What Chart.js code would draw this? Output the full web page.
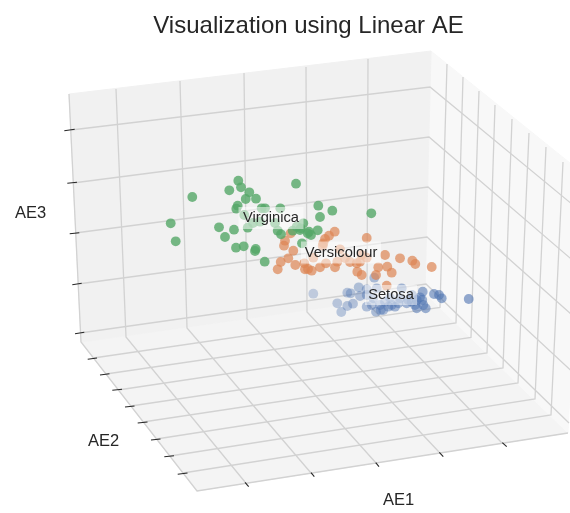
<!DOCTYPE html>
<html>
<head>
<meta charset="utf-8">
<title>Visualization using Linear AE</title>
<script src="https://cdn.jsdelivr.net/npm/chart.js@4"></script>
<style>
  html, body { margin: 0; padding: 0; background: #fff; }
  canvas { display: block; }
</style>
</head>
<body>
<canvas id="grafico" width="570" height="513"></canvas>
<script>
// projected positions
const virginicaX = [238.3,241,229.3,249.3,296,192.3,245.7,256,237.7,236.3,261.7,265,280.3,170.7,219,234,225,175.7,236,243.7,255.7,255,264.7,302,281,277.7,247.7,253,244.3,260,275,292.7,300.7,303.3,307.7,296.7,318.3,332.3,320,371.3,300,309,311,317.7];
const virginicaY = [180.7,187.3,190.3,192.3,183.7,197,199,198.7,205.7,208.7,208.3,208.3,208.3,223.3,227.3,229.7,237,241.3,247.7,246.3,249,251,261.7,243.3,234.3,230.7,227.7,223,215,221.7,223,230.7,228.3,223.3,233.3,226.7,205.7,210.7,217,213.3,230,231.7,235,230.3];

const versicolourX = [334.7,329,325,323.3,322.7,366.7,290.7,285,284,293.3,288.3,280.7,277.7,295.3,304.3,305,311.7,320,326,335,337.3,340,313.3,356.7,360,366.7,361.7,385,400,412.3,415.3,431.7,387.3,391.7,378.3,376,357.3,361.7,386.7,308,345,350];
const versicolourY = [231.7,235.7,239,243.3,245.7,238,233.3,240.7,245.7,250.7,258.3,262,269.3,265,263.3,269.3,270.7,267.3,263.3,267.3,261.7,249.3,257.7,263.3,261.7,257.7,255,255,258.3,260.7,264,267,266.7,272.7,267.3,275,271.7,275,285.7,269,258,262];

const setosaX = [313.3,374.3,358.7,347.3,350.7,337.3,347.3,353,341.3,366.7,376.7,401.7,366.7,366.7,371.7,376,380.7,388.3,391.7,398.3,406.7,415,416.7,425.7,422.7,420,422.3,416.7,434,439,441.7,468.7,380,385,400,408.3,395,411.7,423.3,373.3,383.3,360,390,412];
const setosaY = [293.7,277.7,287.3,292.7,293.3,303.3,306,303.7,312,289.3,288.3,288.3,295,306.7,305,311.7,310,306.7,305,303.3,303.3,305,308.3,308.3,291.7,297.3,300,300,294,295,298.3,299,305,301.7,298.3,300,306.7,301.7,305,298.3,310,296,298,295];

// box outline
const backWallX = [69,431,425,81];
const backWallY = [94,51,293,342];
const sideWallX = [431,580,568,425];
const sideWallY = [51,171,433,293];
const floorX = [81,425,568,197];
const floorY = [342,293,433,491];

// gridlines on the back wall
const aeOneTopX = [116,180,244,306,368];
const aeOneTopY = [89,81,73,67,59];
const aeOneBackX = [126,187,247,307,367];
const aeOneBackY = [337,328,319,312,303];
const aeOneFrontX = [245,311,376,439,502];
const aeOneFrontY = [482,473,463,452,443];

const aeThreeLeftX = [71,73,75,78,80];
const aeThreeLeftY = [130,183,233,284,333];
const aeThreeMidX = [430,429,428,427,426];
const aeThreeMidY = [87,137,187,237,284];
const aeThreeRightX = [578.5,577,575.5,573,569];
const aeThreeRightY = [209.5,264,318,372.5,423];

const aeTwoLeftX = [93.5,106,118,131,143,156.5,170,183];
const aeTwoLeftY = [358,374,390,406,422,439,456,473];
const aeTwoMidX = [440,456,471,487,503,518,535,551];
const aeTwoMidY = [307.5,323,337.4,353,368,383,399,415];
const aeTwoTopX = [447,463,479,495,512,529,546,563];
const aeTwoTopY = [64,77,91,105,119,133,147,162];

// tick marks
const tickThreeX = [[64.3,74.7],[67.3,77],[69.7,79.3],[72.3,81.7],[75,84.3]];
const tickThreeY = [[130.7,129.3],[183.3,182.3],[233.7,232.7],[284.7,283.3],[333.7,332.3]];
const tickTwoX = [[87.7,97],[100,109.5],[112.3,122],[125,134.5],[137.7,147.5],[151,160.5],[164.3,174],[177.7,187.5]];
const tickTwoY = [[359.3,358],[375,373.7],[390.3,389.3],[407,406],[423,422],[440,439],[456.7,455.7],[474.3,473]];
const tickOneX = [[245,248.7],[311,314.3],[375.7,379],[439.3,443.3],[502.3,506.7]];
const tickOneY = [[482.3,486.7],[472.7,476.7],[462.7,466.7],[452.3,456.7],[442.7,446.7]];

const classNames = ['Virginica','Versicolour','Setosa'];
const classLabelX = [271,341,391];
const classLabelY = [218,252.5,295];
const classBoxW = [65,80,52];
const classBoxH = [22,22,20];

function juntar(xs, ys) {
  return xs.map((x, i) => ({ x: x, y: ys[i] }));
}

function linha(xs, ys, cor, largura, ordem) {
  return {
    data: juntar(xs, ys), showLine: true, pointRadius: 0,
    borderColor: cor, borderWidth: largura, order: ordem, fill: false, tension: 0
  };
}

function parede(xs, ys, cor) {
  return {
    data: juntar(xs.concat(xs[0]), ys.concat(ys[0])), showLine: true, pointRadius: 0,
    borderColor: cor, backgroundColor: cor, borderWidth: 1, fill: 'shape', order: 30, tension: 0
  };
}

function pontos(xs, ys, cor, ordem) {
  return {
    data: juntar(xs, ys), showLine: false, pointRadius: 4.9, pointBorderWidth: 0,
    backgroundColor: cor, order: ordem
  };
}

const GRID = '#d2d2d2';
const datasets = [
  parede(backWallX, backWallY, '#f1f1f1'),
  parede(sideWallX, sideWallY, '#f8f8f8'),
  parede(floorX, floorY, '#f4f4f4'),
  pontos(virginicaX, virginicaY, 'rgba(85,168,104,0.8)', 1),
  pontos(versicolourX, versicolourY, 'rgba(221,132,82,0.7)', 2),
  // depth shading: the cloud fades towards the back-left
  pontos(setosaX, setosaY, ctx => {
    const x = ctx.raw ? ctx.raw.x : 400;
    const a = Math.min(0.6, 0.3 + (x - 313) / 450);
    return `rgba(76,114,176,${a})`;
  }, 3)
];

aeOneTopX.forEach((x, i) => {
  datasets.push(linha([x, aeOneBackX[i], aeOneFrontX[i]], [aeOneTopY[i], aeOneBackY[i], aeOneFrontY[i]], GRID, 1.3, 10));
});
aeThreeLeftX.forEach((x, i) => {
  datasets.push(linha([x, aeThreeMidX[i], aeThreeRightX[i]], [aeThreeLeftY[i], aeThreeMidY[i], aeThreeRightY[i]], GRID, 1.3, 10));
});
aeTwoLeftX.forEach((x, i) => {
  datasets.push(linha([x, aeTwoMidX[i], aeTwoTopX[i]], [aeTwoLeftY[i], aeTwoMidY[i], aeTwoTopY[i]], GRID, 1.3, 10));
});

// the three visible axis edges
datasets.push(linha([69,81,197,568], [94,342,491,433], GRID, 1.3, 9));

[[tickThreeX, tickThreeY], [tickTwoX, tickTwoY], [tickOneX, tickOneY]].forEach(par => {
  par[0].forEach((xs, i) => datasets.push(linha(xs, par[1][i], '#262626', 1.1, 8)));
});

const textos = {
  id: 'textos',
  afterDraw(chart) {
    const { ctx, scales } = chart;
    const px = v => scales.x.getPixelForValue(v);
    const py = v => scales.y.getPixelForValue(v);
    ctx.save();
    ctx.textAlign = 'center';
    ctx.textBaseline = 'middle';
    ctx.fillStyle = '#262626';

    classNames.forEach((nome, i) => {
      const w = classBoxW[i], h = classBoxH[i];
      ctx.fillStyle = 'rgba(255,255,255,0.5)';
      ctx.fillRect(px(classLabelX[i]) - w / 2, py(classLabelY[i]) - h / 2, w, h);
      ctx.fillStyle = '#262626';
      ctx.font = '14.7px "Liberation Sans"';
      ctx.fillText(nome, px(classLabelX[i]), py(classLabelY[i]));
    });

    ctx.font = '24px "Liberation Sans"';
    ctx.fillText('Visualization using Linear AE', px(308.5), py(26));
    ctx.font = '16.5px "Liberation Sans"';
    ctx.fillText('AE3', px(30.5), py(213));
    ctx.fillText('AE2', px(103.5), py(441));
    ctx.fillText('AE1', px(398.5), py(500));
    ctx.restore();
  }
};

new Chart(document.getElementById('grafico').getContext('2d'), {
  type: 'scatter',
  data: { datasets: datasets },
  options: {
    responsive: false,
    animation: false,
    layout: { padding: 0, autoPadding: false },
    plugins: { legend: { display: false }, tooltip: { enabled: false } },
    scales: {
      x: { type: 'linear', display: false, min: 0, max: 570 },
      y: { type: 'linear', display: false, min: 0, max: 513, reverse: true }
    }
  },
  plugins: [textos]
});
</script>
</body>
</html>
